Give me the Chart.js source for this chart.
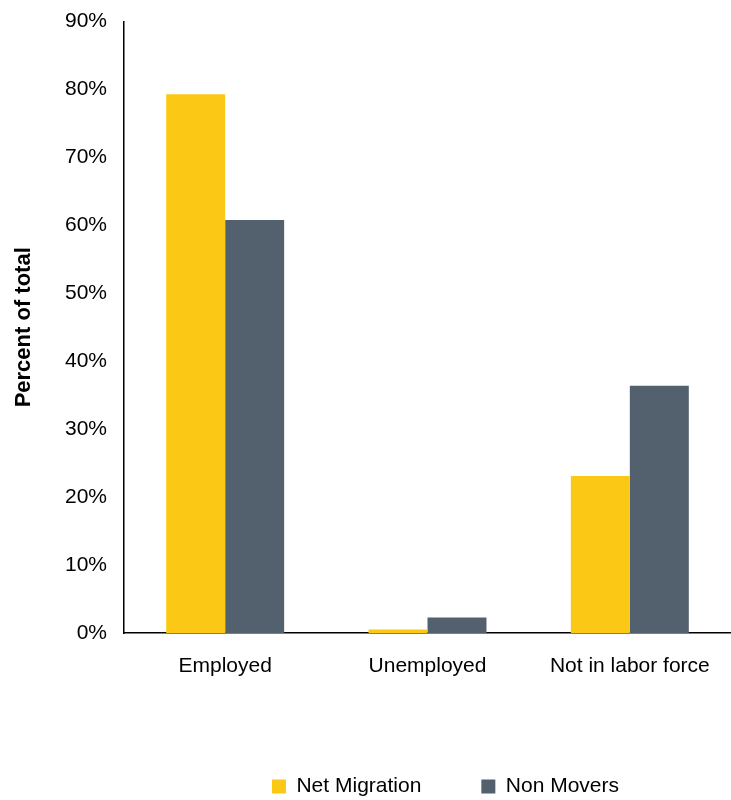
<!DOCTYPE html>
<html>
<head>
<meta charset="utf-8">
<script src="https://cdn.jsdelivr.net/npm/chart.js@4/dist/chart.umd.min.js"></script>
<style>
  body { margin: 0; background: #fff; }
  #wrap { width: 731px; height: 800px; }
</style>
</head>
<body>
<div id="wrap"><canvas id="laborChart"></canvas></div>
<script>
// labor force status, percent of total
const categories = ['Employed', 'Unemployed', 'Not in labor force'];
const netMigration = [79.3, 0.5, 23.1];
const nonMovers = [60.8, 2.3, 36.4];
const yTicks = [0, 10, 20, 30, 40, 50, 60, 70, 80, 90];

Chart.defaults.font.family = '"Liberation Sans", Arial, sans-serif';
Chart.defaults.color = '#000';

// nudge the legend a bit to sit where the original one is
const legendShift = {
  id: 'legendShift',
  afterLayout(chart) {
    const lg = chart.legend;
    lg.left += 18; lg.right += 18;
    lg.top += 7; lg.bottom += 7;
  }
};

const ctx = document.getElementById('laborChart').getContext('2d');

new Chart(ctx, {
  type: 'bar',
  data: {
    labels: categories,
    datasets: [
      {
        label: 'Net Migration',
        data: netMigration,
        backgroundColor: '#FBC816',
      },
      {
        label: 'Non Movers',
        data: nonMovers,
        backgroundColor: '#53616F',
      },
    ],
  },
  options: {
    responsive: true,
    maintainAspectRatio: false,
    animation: false,
    categoryPercentage: 0.583,
    barPercentage: 1,
    layout: { padding: { top: 12, right: 0, bottom: 0, left: 0 } },
    plugins: {
      legend: {
        position: 'bottom',
        fullSize: false,
        labels: {
          boxWidth: 14,
          boxHeight: 14,
          padding: 60,
          font: { size: 21 },
        },
      },
      tooltip: { enabled: false },
    },
    scales: {
      x: {
        grid: { display: false },
        border: { display: true, color: '#000', width: 1.5 },
        ticks: { font: { size: 21 }, padding: 13, maxRotation: 0 },
        afterFit(axis) { axis.height = 76; },
      },
      y: {
        min: 0,
        max: 90,
        grid: { display: false },
        border: { display: true, color: '#000', width: 1.5 },
        afterBuildTicks(axis) { axis.ticks = yTicks.map(v => ({ value: v })); },
        ticks: {
          font: { size: 21 },
          padding: 9,
          callback: v => v + '%',
        },
        title: {
          display: true,
          text: 'Percent of total',
          font: { size: 22, weight: 'bold' },
          padding: { top: 11, bottom: 0 },
        },
        afterFit(axis) { axis.width = 124; },
      },
    },
  },
  plugins: [legendShift],
});
</script>
</body>
</html>
